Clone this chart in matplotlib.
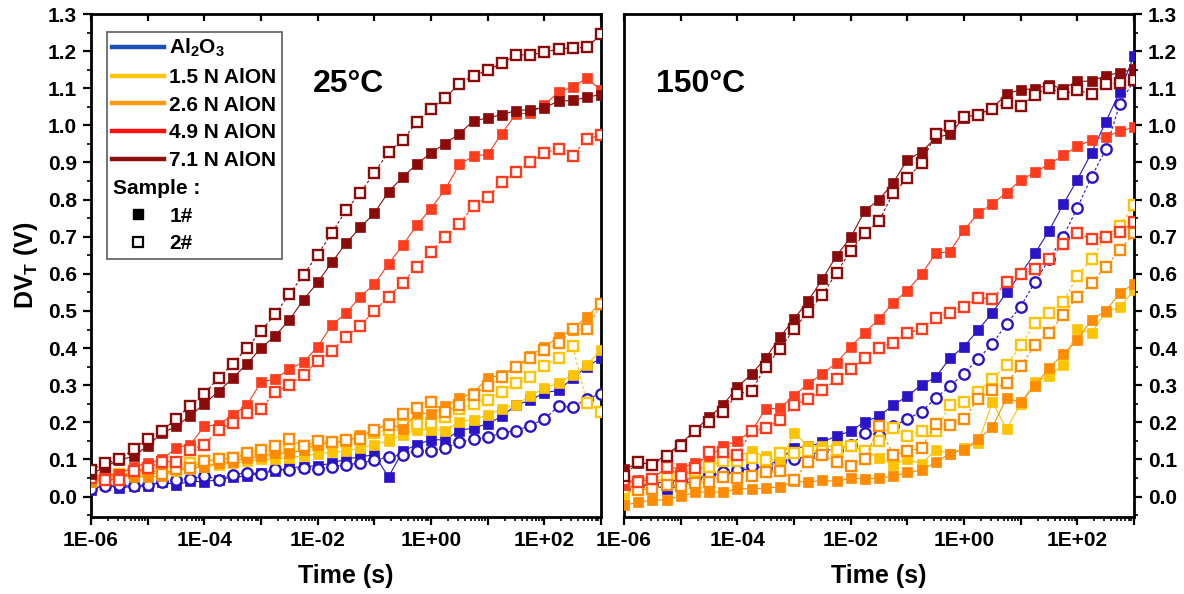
import numpy as np
import matplotlib
matplotlib.use("Agg")
import matplotlib.pyplot as plt
from matplotlib.lines import Line2D
from matplotlib.ticker import FixedLocator, LogLocator, MultipleLocator, NullFormatter, FuncFormatter

plt.rcParams['font.family'] = ['Liberation Sans', 'DejaVu Sans']
plt.rcParams['font.weight'] = 'bold'
plt.rcParams['axes.labelweight'] = 'bold'
plt.rcParams['mathtext.fontset'] = 'custom'
plt.rcParams['mathtext.rm'] = 'Liberation Sans:bold'
plt.rcParams['mathtext.it'] = 'Liberation Sans:bold'
plt.rcParams['mathtext.bf'] = 'Liberation Sans:bold'

# log10 of stress time (s), common to all series
log_t = [-6.0, -5.75, -5.5, -5.25, -5.0, -4.75, -4.5, -4.25, -4.0, -3.75, -3.5, -3.25,
         -3.0, -2.75, -2.5, -2.25, -2.0, -1.75, -1.5, -1.25, -1.0, -0.75, -0.5, -0.25,
         0.0, 0.25, 0.5, 0.75, 1.0, 1.25, 1.5, 1.75, 2.0, 2.25, 2.5, 2.75, 3.0]

materials = ['Al$_2$O$_3$', '1.5 N AlON', '2.6 N AlON', '4.9 N AlON', '7.1 N AlON']
legend_colors = ['#1c4fb8', '#ffc60a', '#ff9a10', '#ff1010', '#8b0f0f']
data_colors = ['#2a14c8', '#ffc400', '#ff8c00', '#ff3c1e', '#8b0a0a']

# 25 C, sample 1# (filled) and 2# (open)
t25_al_1 = [0.019, 0.032, 0.023, 0.028, 0.028, 0.040, 0.032, 0.041, 0.040, 0.046, 0.052, 0.055, 0.064, 0.068, 0.077, 0.081, 0.083, 0.090, 0.101, 0.107, 0.113, 0.053, 0.122, 0.140, 0.153, 0.153, 0.178, 0.185, 0.196, 0.216, 0.247, 0.259, 0.280, 0.286, 0.319, 0.350, 0.373]
t25_al_2 = [0.020, 0.028, 0.030, 0.028, 0.032, 0.040, 0.044, 0.048, 0.056, 0.046, 0.059, 0.064, 0.062, 0.075, 0.071, 0.077, 0.073, 0.081, 0.086, 0.090, 0.098, 0.107, 0.113, 0.124, 0.124, 0.131, 0.146, 0.155, 0.160, 0.171, 0.178, 0.191, 0.209, 0.243, 0.241, 0.263, 0.277]
t25_ye_1 = [0.040, 0.050, 0.050, 0.060, 0.060, 0.065, 0.070, 0.075, 0.080, 0.085, 0.090, 0.095, 0.100, 0.100, 0.105, 0.110, 0.115, 0.120, 0.122, 0.130, 0.140, 0.150, 0.167, 0.180, 0.180, 0.178, 0.202, 0.207, 0.220, 0.236, 0.247, 0.272, 0.292, 0.306, 0.328, 0.355, 0.395]
t25_ye_2 = [0.045, 0.055, 0.060, 0.065, 0.070, 0.080, 0.085, 0.090, 0.095, 0.100, 0.105, 0.110, 0.115, 0.120, 0.130, 0.135, 0.140, 0.145, 0.150, 0.160, 0.170, 0.180, 0.194, 0.196, 0.198, 0.215, 0.236, 0.250, 0.261, 0.283, 0.306, 0.322, 0.353, 0.373, 0.406, 0.253, 0.229]
t25_or_1 = [0.040, 0.045, 0.060, 0.053, 0.053, 0.055, 0.073, 0.077, 0.081, 0.090, 0.094, 0.104, 0.108, 0.117, 0.117, 0.126, 0.140, 0.146, 0.149, 0.165, 0.178, 0.198, 0.182, 0.225, 0.223, 0.243, 0.265, 0.280, 0.319, 0.328, 0.349, 0.379, 0.404, 0.429, 0.450, 0.485, 0.521]
t25_or_2 = [0.050, 0.050, 0.055, 0.064, 0.077, 0.060, 0.075, 0.077, 0.097, 0.100, 0.104, 0.117, 0.126, 0.137, 0.155, 0.135, 0.149, 0.146, 0.153, 0.155, 0.180, 0.194, 0.222, 0.238, 0.256, 0.227, 0.247, 0.274, 0.298, 0.321, 0.349, 0.373, 0.395, 0.413, 0.451, 0.452, 0.519]
t25_r_1 = [0.050, 0.060, 0.060, 0.081, 0.090, 0.100, 0.131, 0.140, 0.189, 0.194, 0.219, 0.247, 0.308, 0.317, 0.344, 0.362, 0.404, 0.462, 0.494, 0.538, 0.572, 0.627, 0.677, 0.731, 0.776, 0.828, 0.895, 0.917, 0.922, 0.978, 1.031, 1.033, 1.055, 1.090, 1.103, 1.128, 1.094]
t25_r_2 = [0.050, 0.046, 0.045, 0.068, 0.077, 0.094, 0.094, 0.126, 0.140, 0.180, 0.198, 0.225, 0.237, 0.281, 0.301, 0.328, 0.366, 0.392, 0.431, 0.460, 0.500, 0.538, 0.576, 0.619, 0.660, 0.700, 0.735, 0.782, 0.807, 0.848, 0.874, 0.901, 0.926, 0.937, 0.917, 0.964, 0.973]
t25_d_1 = [0.060, 0.081, 0.099, 0.108, 0.137, 0.171, 0.189, 0.218, 0.250, 0.283, 0.319, 0.357, 0.400, 0.433, 0.476, 0.530, 0.577, 0.631, 0.682, 0.725, 0.763, 0.821, 0.861, 0.895, 0.926, 0.951, 0.978, 1.012, 1.020, 1.029, 1.040, 1.042, 1.048, 1.065, 1.067, 1.076, 1.083]
t25_d_2 = [0.072, 0.090, 0.100, 0.128, 0.156, 0.176, 0.210, 0.245, 0.277, 0.320, 0.357, 0.400, 0.446, 0.491, 0.545, 0.597, 0.652, 0.710, 0.771, 0.818, 0.872, 0.928, 0.960, 1.009, 1.045, 1.074, 1.112, 1.134, 1.148, 1.168, 1.190, 1.190, 1.197, 1.206, 1.209, 1.210, 1.245]

# 150 C
t150_al_1 = [0.023, 0.030, 0.030, 0.020, 0.030, 0.045, 0.059, 0.060, 0.068, 0.077, 0.081, 0.100, 0.131, 0.135, 0.146, 0.164, 0.176, 0.202, 0.216, 0.247, 0.270, 0.301, 0.321, 0.373, 0.404, 0.449, 0.495, 0.550, 0.600, 0.655, 0.716, 0.787, 0.854, 0.926, 1.009, 1.091, 1.188]
t150_al_2 = [0.020, 0.030, 0.035, 0.040, 0.045, 0.050, 0.062, 0.065, 0.071, 0.083, 0.077, 0.095, 0.101, 0.108, 0.126, 0.126, 0.140, 0.171, 0.167, 0.189, 0.209, 0.229, 0.265, 0.298, 0.331, 0.371, 0.411, 0.465, 0.512, 0.577, 0.639, 0.700, 0.778, 0.861, 0.935, 1.058, 1.121]
t150_ye_1 = [0.000, 0.030, 0.040, 0.046, 0.050, 0.071, 0.081, 0.099, 0.108, 0.122, 0.108, 0.090, 0.171, 0.137, 0.135, 0.135, 0.135, 0.122, 0.104, 0.086, 0.101, 0.088, 0.126, 0.116, 0.131, 0.144, 0.255, 0.182, 0.250, 0.308, 0.325, 0.355, 0.451, 0.440, 0.498, 0.510, 0.556]
t150_ye_2 = [0.020, 0.030, 0.040, 0.050, 0.060, 0.070, 0.080, 0.095, 0.095, 0.104, 0.099, 0.117, 0.117, 0.122, 0.124, 0.126, 0.137, 0.124, 0.149, 0.186, 0.162, 0.177, 0.176, 0.247, 0.254, 0.283, 0.316, 0.355, 0.407, 0.467, 0.494, 0.523, 0.595, 0.639, 0.700, 0.730, 0.785]
t150_or_1 = [-0.024, -0.015, -0.010, -0.008, 0.001, 0.012, 0.012, 0.012, 0.021, 0.021, 0.023, 0.026, 0.041, 0.039, 0.044, 0.041, 0.050, 0.048, 0.050, 0.055, 0.065, 0.071, 0.092, 0.116, 0.126, 0.155, 0.187, 0.265, 0.254, 0.298, 0.346, 0.384, 0.422, 0.476, 0.500, 0.548, 0.574]
t150_or_2 = [0.030, 0.019, 0.020, 0.032, 0.028, 0.037, 0.039, 0.053, 0.050, 0.056, 0.065, 0.068, 0.046, 0.092, 0.113, 0.092, 0.083, 0.101, 0.191, 0.113, 0.122, 0.131, 0.196, 0.194, 0.209, 0.263, 0.288, 0.307, 0.352, 0.407, 0.442, 0.489, 0.538, 0.576, 0.619, 0.664, 0.710]
t150_r_1 = [0.032, 0.046, 0.050, 0.077, 0.077, 0.090, 0.108, 0.135, 0.151, 0.176, 0.236, 0.238, 0.272, 0.304, 0.331, 0.360, 0.404, 0.442, 0.478, 0.522, 0.555, 0.599, 0.655, 0.660, 0.718, 0.763, 0.788, 0.819, 0.852, 0.874, 0.895, 0.919, 0.944, 0.960, 0.969, 0.984, 0.995]
t150_r_2 = [0.046, 0.038, 0.048, 0.080, 0.055, 0.077, 0.119, 0.119, 0.113, 0.176, 0.185, 0.207, 0.247, 0.263, 0.286, 0.316, 0.343, 0.373, 0.400, 0.415, 0.440, 0.452, 0.482, 0.495, 0.512, 0.536, 0.532, 0.577, 0.599, 0.613, 0.639, 0.680, 0.709, 0.694, 0.700, 0.713, 0.740]
t150_d_1 = [0.073, 0.090, 0.088, 0.113, 0.142, 0.178, 0.214, 0.247, 0.295, 0.330, 0.373, 0.429, 0.478, 0.528, 0.585, 0.649, 0.698, 0.770, 0.800, 0.845, 0.908, 0.928, 0.967, 0.976, 1.021, 1.030, 1.045, 1.085, 1.096, 1.099, 1.109, 1.099, 1.119, 1.119, 1.134, 1.142, 1.152]
t150_d_2 = [0.055, 0.093, 0.086, 0.110, 0.135, 0.177, 0.201, 0.229, 0.276, 0.285, 0.350, 0.397, 0.451, 0.498, 0.543, 0.603, 0.662, 0.710, 0.742, 0.818, 0.857, 0.899, 0.977, 0.997, 1.022, 1.029, 1.045, 1.060, 1.051, 1.083, 1.101, 1.085, 1.094, 1.085, 1.112, 1.114, 1.121]

t = 10.0 ** np.array(log_t)

panels = [
    ('25°C', [(t25_al_1, t25_al_2), (t25_ye_1, t25_ye_2), (t25_or_1, t25_or_2),
              (t25_r_1, t25_r_2), (t25_d_1, t25_d_2)]),
    ('150°C', [(t150_al_1, t150_al_2), (t150_ye_1, t150_ye_2), (t150_or_1, t150_or_2),
               (t150_r_1, t150_r_2), (t150_d_1, t150_d_2)]),
]


def draw_series(ax, y, color, filled, circle):
    marker = 'o' if circle else 's'
    if filled:
        ax.plot(t, y, ls='-', lw=0.8, color=color, marker=marker, ms=7,
                mfc=color, mec=color, mew=0.5, zorder=3)
    else:
        ax.plot(t, y, ls=(0, (2.5, 2)), lw=0.8, color=color, marker=marker,
                ms=7.5 if circle else 6.8, mfc='white', mec=color, mew=1.7, zorder=3)


def x_label_fmt(v, pos):
    e = int(round(np.log10(v)))
    if e % 2 == 0 and e < 3:
        return '1E{:+03d}'.format(e)
    return ''


fig = plt.figure(figsize=(11.84, 5.94), dpi=100)
ax_l = fig.add_axes([91 / 1184, 77 / 594, 510 / 1184, 503 / 594])
ax_r = fig.add_axes([624 / 1184, 77 / 594, 510 / 1184, 503 / 594])

for i, (ax, (temp, series)) in enumerate(zip([ax_l, ax_r], panels)):
    for k, (s1, s2) in enumerate(series):
        draw_series(ax, s1, data_colors[k], True, False)
        draw_series(ax, s2, data_colors[k], False, k == 0)

    ax.set_xscale('log')
    ax.set_xlim(1e-6, 1e3)
    ax.set_ylim(-0.055, 1.3)
    ax.xaxis.set_major_locator(FixedLocator([10.0 ** e for e in range(-6, 4)]))
    ax.xaxis.set_major_formatter(FuncFormatter(x_label_fmt))
    ax.xaxis.set_minor_locator(LogLocator(base=10, subs=range(2, 10), numticks=20))
    ax.xaxis.set_minor_formatter(NullFormatter())
    ax.yaxis.set_major_locator(MultipleLocator(0.1))
    ax.yaxis.set_minor_locator(MultipleLocator(0.05))
    ax.yaxis.set_major_formatter(FuncFormatter(lambda v, p: '{:.1f}'.format(abs(v) if abs(v) < 1e-9 else v)))
    ax.tick_params(which='major', direction='out', length=6, width=1.6, labelsize=15, pad=4)
    ax.tick_params(which='minor', direction='out', length=3, width=1.2)
    for sp in ax.spines.values():
        sp.set_linewidth(2)
    ax.set_xlabel('Time (s)', fontsize=18, labelpad=10)

    # inward decade ticks on the top edge
    top = ax.twiny()
    top.set_xscale('log')
    top.set_xlim(ax.get_xlim())
    top.xaxis.set_major_locator(FixedLocator([10.0 ** e for e in range(-6, 4)]))
    top.xaxis.set_minor_locator(FixedLocator([]))
    top.tick_params(axis='x', direction='in', length=5, width=1.6, labeltop=False)
    for sp in top.spines.values():
        sp.set_visible(False)

    if i == 0:
        ax.text(0.505, 0.86, temp, transform=ax.transAxes, fontsize=23,
                fontweight='bold', ha='center', va='center')
    else:
        ax.text(0.062, 0.86, temp, transform=ax.transAxes, fontsize=23,
                fontweight='bold', ha='left', va='center')

ax_l.set_ylabel('DV$_T$ (V)', fontsize=18, labelpad=6)
ax_r.yaxis.tick_right()
ax_r.tick_params(axis='y', which='both', left=False, right=True)

# legend
handles = [Line2D([], [], color=c, lw=3.2) for c in legend_colors]
labels = list(materials)
handles.append(Line2D([], [], color='none'))
labels.append(' ')
handles.append(Line2D([], [], ls='none', marker='s', ms=7, mfc='black', mec='black'))
labels.append('1#')
handles.append(Line2D([], [], ls='none', marker='s', ms=6.5, mfc='white', mec='black', mew=1.6))
labels.append('2#')
leg = ax_l.legend(handles, labels, loc='upper left', bbox_to_anchor=(0.031, 0.965),
                  borderaxespad=0, fontsize=15, handlelength=2.5, handletextpad=0.25,
                  labelspacing=0.42, borderpad=0.25, frameon=True, fancybox=False)
leg.get_frame().set_edgecolor('#333333')
leg.get_frame().set_linewidth(1.2)
leg.set_zorder(10)

# "Sample :" header sits in the blank legend row, starting at the frame edge
fig.canvas.draw()
blank_txt = leg.get_texts()[5].get_window_extent()
frame_box = leg.get_frame().get_window_extent()
y_mid = (blank_txt.y0 + blank_txt.y1) / 2
x_left = frame_box.x0 + 6
xa, ya = ax_l.transAxes.inverted().transform((x_left, y_mid))
ax_l.text(xa, ya, 'Sample :', transform=ax_l.transAxes,
          fontsize=15, fontweight='bold', ha='left', va='center', zorder=11)

fig.savefig('out.png', dpi=100)
